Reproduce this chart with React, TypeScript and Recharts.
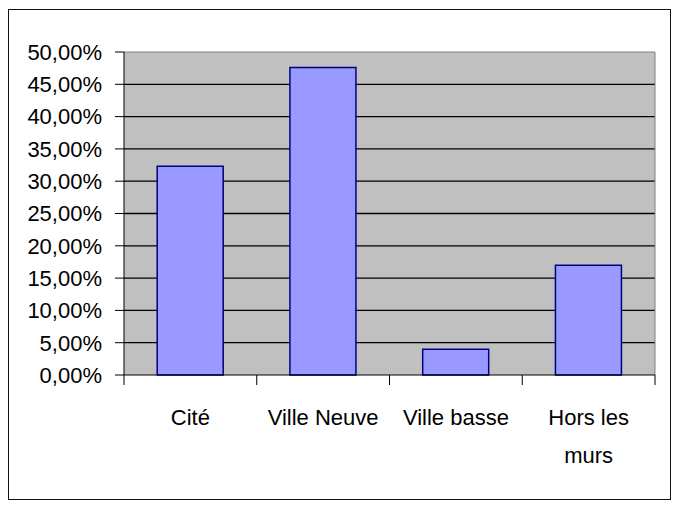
import React from 'react';
import { BarChart, Bar, XAxis, YAxis, CartesianGrid, ReferenceLine } from 'recharts';

const CATEGORIES = ['Cité', 'Ville Neuve', 'Ville basse', 'Hors les murs'];
const SHARES = [32.3, 47.6, 4.0, 17.0];
const Y_TICKS = [0, 5, 10, 15, 20, 25, 30, 35, 40, 45, 50];
const GRID_VALUES = [5, 10, 15, 20, 25, 30, 35, 40, 45];

const data = CATEGORIES.map((name, i) => ({ name, value: SHARES[i] }));

const FONT = '"Liberation Sans", Arial, sans-serif';

const wrapLabel = (s: string): string[] => {
  if (s.length <= 12) return [s];
  const idx = s.lastIndexOf(' ');
  return [s.slice(0, idx), s.slice(idx + 1)];
};

const XTick = (props: any) => {
  const { x, y, payload, index, width } = props;
  const half = payload && payload.offset ? payload.offset : width / CATEGORIES.length / 2;
  const lines = wrapLabel(String(payload.value));
  return (
    <g>
      <line x1={x - half} x2={x - half} y1={y} y2={y + 10} stroke="#000" />
      {index === CATEGORIES.length - 1 && (
        <line x1={x + half} x2={x + half} y1={y} y2={y + 10} stroke="#000" />
      )}
      <text x={x} y={y + 50} textAnchor="middle" fontSize={22} fontFamily={FONT} fill="#000">
        {lines.map((l, i) => (
          <tspan key={i} x={x} dy={i === 0 ? 0 : 38}>
            {l}
          </tspan>
        ))}
      </text>
    </g>
  );
};

const fmt = (v: number) => v.toFixed(2).replace('.', ',') + '%';

export default function App() {
  return (
    <div
      style={{
        position: 'absolute',
        left: 8,
        top: 9,
        width: 663,
        height: 491,
        border: '1px solid #111',
        boxSizing: 'border-box',
        background: '#fff',
        overflow: 'hidden',
      }}
    >
      <BarChart
        width={661}
        height={489}
        data={data}
        margin={{ top: 42, right: 15, bottom: 0, left: 0 }}
        barCategoryGap="25%"
      >
        <CartesianGrid
          vertical={false}
          horizontalValues={GRID_VALUES}
          stroke="#000"
          strokeWidth={1.3}
          fill="#C0C0C0"
          fillOpacity={1}
        />
        <ReferenceLine y={50} stroke="#808080" strokeWidth={1} />
        <ReferenceLine x={CATEGORIES[CATEGORIES.length - 1]} position="end" stroke="#808080" strokeWidth={1} />
        <XAxis
          dataKey="name"
          height={124}
          tickSize={0}
          tickMargin={0}
          tickLine={false}
          axisLine={{ stroke: '#000' }}
          tick={<XTick />}
          interval={0}
        />
        <YAxis
          width={115}
          domain={[0, 50]}
          ticks={Y_TICKS}
          tickFormatter={fmt}
          tickSize={9}
          tickMargin={13}
          axisLine={{ stroke: '#000' }}
          tickLine={{ stroke: '#000' }}
          tick={{ fill: '#000', fontSize: 22, fontFamily: FONT }}
          interval={0}
        />
        <Bar dataKey="value" fill="#9999FF" stroke="#000080" strokeWidth={1.5} isAnimationActive={false} />
      </BarChart>
    </div>
  );
}
